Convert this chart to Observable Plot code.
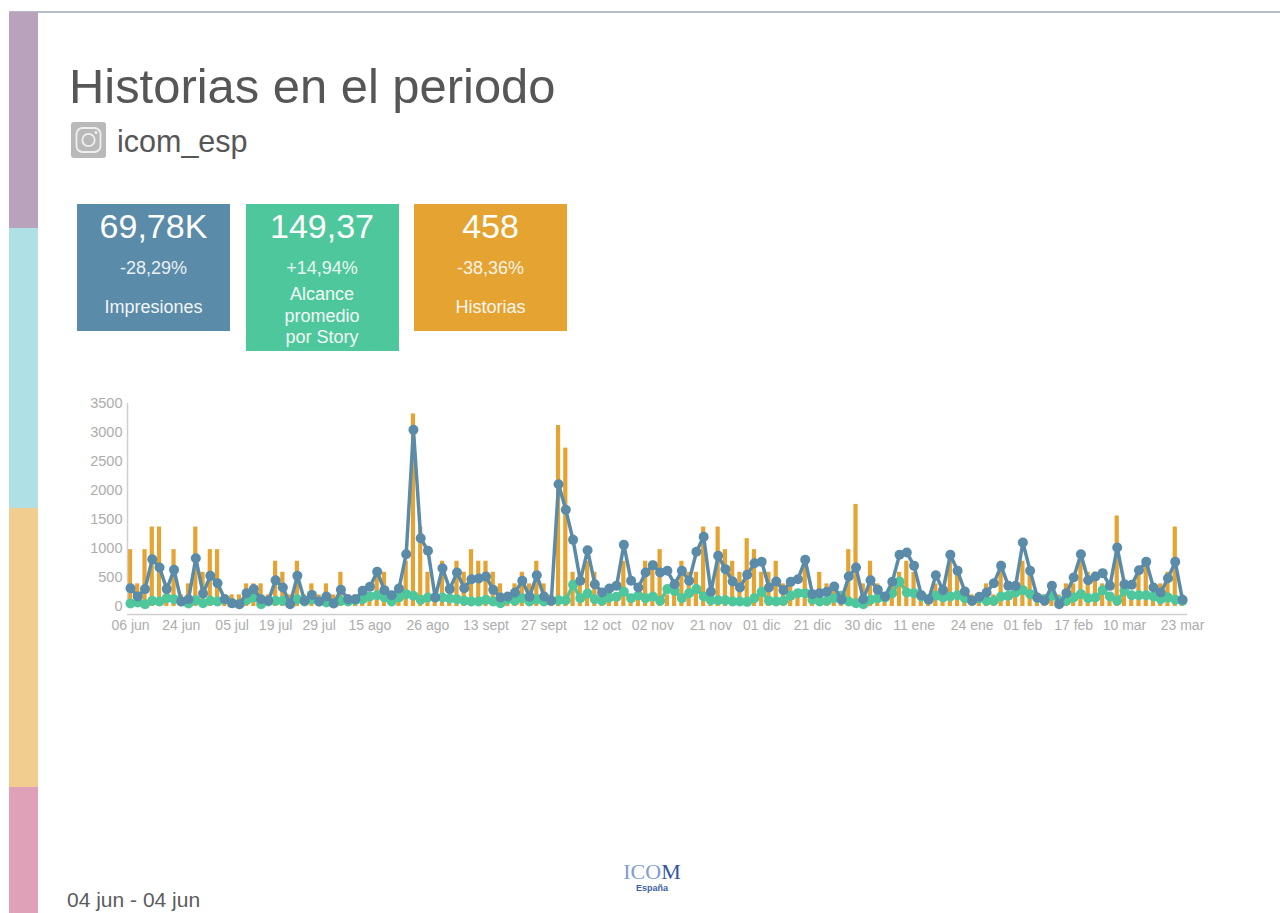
<!DOCTYPE html>
<html lang="es">
<head>
<meta charset="utf-8">
<script src="https://cdn.jsdelivr.net/npm/d3@7"></script>
<script src="https://cdn.jsdelivr.net/npm/@observablehq/plot@0.6"></script>
<style>
html,body{margin:0;padding:0;background:#fff;}
body{width:1280px;height:913px;position:relative;overflow:hidden;font-family:"Liberation Sans",Arial,sans-serif;}
.a{position:absolute;}
.card{position:absolute;top:204px;width:153px;color:#fff;text-align:center;}
.card .v{position:absolute;left:0;right:0;top:4px;font-size:34px;line-height:36px;}
.card .p{position:absolute;left:0;right:0;top:54px;font-size:18px;line-height:20px;opacity:.88;}
.card .l{position:absolute;left:0;right:0;font-size:18px;line-height:21.5px;opacity:.92;}
#chart{position:absolute;left:0;top:380px;}
</style>
</head>
<body>
<div class="a" style="left:9px;top:11px;width:1271px;height:2px;background:#b4bcc9"></div>
<div class="a" style="left:9px;top:12px;width:29px;height:216px;background:#b9a2bb"></div>
<div class="a" style="left:9px;top:228px;width:29px;height:280px;background:#aee0e6"></div>
<div class="a" style="left:9px;top:508px;width:29px;height:279px;background:#f1cd8f"></div>
<div class="a" style="left:9px;top:787px;width:29px;height:126px;background:#dfa1b8"></div>

<div class="a" style="left:69px;top:58px;font-size:48.9px;line-height:56px;color:#565656;white-space:nowrap">Historias en el periodo</div>
<svg class="a" style="left:71px;top:122px" width="35" height="36" viewBox="0 0 35 36">
<rect x="0" y="0" width="35" height="36" rx="3" fill="#b9b9b9"/>
<rect x="5.5" y="6" width="24" height="24" rx="6" fill="none" stroke="#efefef" stroke-width="1.8"/>
<circle cx="17.5" cy="18" r="6.2" fill="none" stroke="#efefef" stroke-width="1.8"/>
<circle cx="25" cy="10.5" r="1.5" fill="#efefef"/>
</svg>
<div class="a" style="left:117px;top:123px;font-size:30.5px;line-height:36px;color:#565656">icom_esp</div>

<div class="card" style="left:77px;height:127px;background:#5a8ba9"><div class="v">69,78K</div><div class="p">-28,29%</div><div class="l" style="top:93px">Impresiones</div></div>
<div class="card" style="left:245.5px;height:147px;background:#4fc79c"><div class="v">149,37</div><div class="p">+14,94%</div><div class="l" style="top:80px">Alcance<br>promedio<br>por Story</div></div>
<div class="card" style="left:414px;height:127px;background:#e5a332"><div class="v">458</div><div class="p">-38,36%</div><div class="l" style="top:93px">Historias</div></div>

<div id="chart"></div>

<div class="a" style="left:622px;top:860px;width:60px;text-align:center;font-family:'Liberation Serif',serif;font-size:22px;line-height:24px;color:#7f9dcf;white-space:nowrap">ICO<span style="color:#2f55a4">M</span></div>
<div class="a" style="left:624px;top:883px;width:56px;text-align:center;font-size:9px;line-height:10px;font-weight:bold;color:#3f62a5">España</div>
<div class="a" style="left:67px;top:888px;font-size:21px;line-height:24px;color:#5c5c5c">04 jun - 04 jun</div>

<script>
const impresiones = [
  316,172,300,816,672,300,632,86,126,833,
  224,529,402,126,57,40,230,300,126,98,
  454,328,40,529,98,200,86,172,52,287,
  126,126,270,339,598,282,195,310,902,3046,
  1178,960,155,661,300,586,316,471,483,517,
  287,155,172,241,443,167,540,172,98,2109,
  1667,1149,443,971,385,241,310,356,1063,443,
  328,586,713,586,615,385,615,443,943,1201,
  253,874,644,431,328,546,747,770,328,431,
  282,425,471,805,213,230,253,345,115,517,
  672,126,454,287,172,425,891,931,701,195,
  115,540,282,891,615,259,98,167,241,402,
  701,356,356,1103,615,155,98,356,40,230,
  500,902,454,517,575,356,1017,385,374,626,
  770,328,241,488,770,115
];
const alcance = [
  52,69,40,98,86,144,126,86,52,109,
  57,98,86,126,57,40,109,155,40,86,
  98,98,57,126,86,120,86,69,57,98,
  86,109,126,172,195,155,86,155,213,184,
  115,155,155,155,138,126,98,86,86,115,
  86,57,126,98,144,86,126,86,98,109,
  109,374,144,224,126,98,155,170,253,144,
  190,144,172,98,300,270,144,230,300,172,
  109,109,109,86,86,80,144,253,98,86,
  98,184,230,230,115,86,98,144,184,86,
  57,40,115,144,155,230,431,241,230,172,
  126,184,155,172,195,144,98,144,98,98,
  172,184,241,282,213,144,126,184,98,98,
  155,213,144,155,282,172,98,270,195,195,
  195,172,126,155,115,98
];
const historias = [
  980,390,980,1370,1370,390,980,200,390,1370,
  590,980,980,200,200,200,390,390,390,200,
  780,590,200,780,200,390,200,390,200,590,
  200,200,200,200,590,590,200,200,780,3320,
  1370,590,200,780,200,780,590,980,780,780,
  590,390,200,390,590,390,780,390,200,3120,
  2730,590,390,780,590,200,200,200,780,200,
  200,780,780,980,200,200,780,590,590,1370,
  200,1370,980,780,590,1170,980,590,590,780,
  390,390,200,780,200,590,390,390,200,980,
  1760,390,780,390,200,390,590,780,590,200,
  200,390,200,780,590,200,200,200,390,200,
  780,200,200,780,590,200,200,200,200,390,
  390,780,590,590,390,200,1560,200,200,590,
  780,200,390,590,1370,200
];
const tickPositions = [0,7,14,20,26,33,41,49,57,65,72,80,87,94,101,108,116,123,130,137,145];
const tickLabels = ["06 jun","24 jun","05 jul","19 jul","29 jul","15 ago","26 ago","13 sept","27 sept","12 oct","02 nov","21 nov","01 dic","21 dic","30 dic","11 ene","24 ene","01 feb","17 feb","10 mar","23 mar"];
const yTicks = [0,500,1000,1500,2000,2500,3000,3500];

const colImp = "#5a8ba9", colAlc = "#4fc79c", colHis = "#e5a332";
const idx = (d, i) => i;
const val = d => d;

const chart = Plot.plot({
  width: 1280,
  height: 270,
  marginLeft: 127,
  marginRight: 93,
  marginTop: 20,
  marginBottom: 36,
  style: {background: "transparent", fontFamily: "'Liberation Sans',Arial,sans-serif", overflow: "visible"},
  x: {type: "band", domain: d3.range(historias.length), padding: 0.42, round: false, range: [124.85, 1187.15], axis: null},
  y: {domain: [0, 3500], range: [226, 23], axis: null},
  marks: [
    Plot.barY(historias, {x: idx, y: val, fill: colHis}),
    Plot.ruleY([0], {dy: 8, stroke: "#cfcfcf", strokeWidth: 1.5}),
    Plot.ruleX([0], {y1: 0, y2: 3500, dx: -3, stroke: "#cfcfcf", strokeWidth: 1.5}),
    Plot.line(alcance, {x: idx, y: val, stroke: colAlc, strokeWidth: 3.5}),
    Plot.dot(alcance, {x: idx, y: val, fill: colAlc, r: 5}),
    Plot.line(impresiones, {x: idx, y: val, stroke: colImp, strokeWidth: 3.5}),
    Plot.dot(impresiones, {x: idx, y: val, fill: colImp, r: 5}),
    Plot.axisY(yTicks, {anchor: "left", tickSize: 0, tickPadding: 5, fontSize: 14.5, fill: "#adadad", tickFormat: d => String(d), label: null}),
    Plot.axisX(tickPositions, {anchor: "bottom", tickSize: 0, tickPadding: 6, fontSize: 14, fill: "#adadad", tickFormat: d => tickLabels[tickPositions.indexOf(d)], label: null})
  ]
});
document.getElementById("chart").appendChild(chart);
</script>
</body>
</html>
